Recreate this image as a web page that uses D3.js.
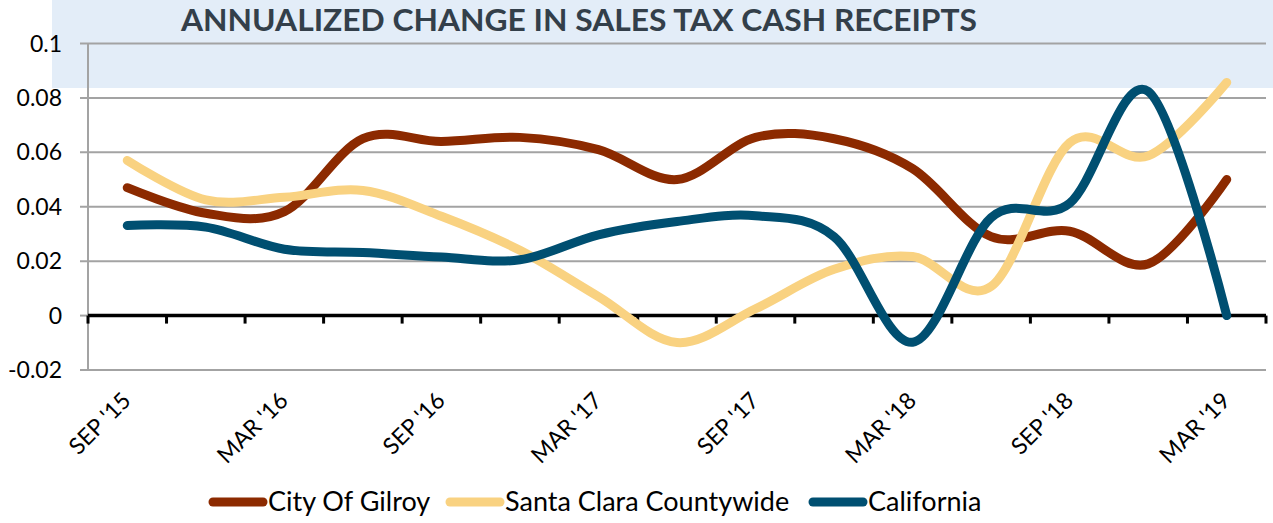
<!DOCTYPE html>
<html>
<head>
<meta charset="utf-8">
<script src="https://cdn.jsdelivr.net/npm/d3@7"></script>
<style>
  html, body { margin: 0; padding: 0; background: #ffffff; }
  svg { display: block; }
</style>
</head>
<body>
<svg id="chart" width="1273" height="523"></svg>
<script>
// ---------------- data ----------------
const categories = ["SEP '15","DEC '15","MAR '16","JUN '16","SEP '16","DEC '16","MAR '17","JUN '17","SEP '17","DEC '17","MAR '18","JUN '18","SEP '18","DEC '18","MAR '19"];
const seriesNames = ["City Of Gilroy", "Santa Clara Countywide", "California"];
const gilroy      = [0.047, 0.0376, 0.0382, 0.065, 0.064, 0.0655, 0.061, 0.050, 0.0655, 0.065, 0.054, 0.029, 0.031, 0.019, 0.050];
const santaClara  = [0.057, 0.0425, 0.0435, 0.046, 0.0365, 0.024, 0.007, -0.0099, 0.0025, 0.017, 0.0217, 0.0107, 0.0635, 0.0587, 0.0857];
const california  = [0.0331, 0.0325, 0.0244, 0.0232, 0.0215, 0.0205, 0.0297, 0.0346, 0.0367, 0.029, -0.0098, 0.036, 0.0413, 0.0824, 0.0];
const yTicks = [-0.02, 0, 0.02, 0.04, 0.06, 0.08, 0.1];
const yTickLabels = ["-0.02", "0", "0.02", "0.04", "0.06", "0.08", "0.1"];
const titleText = "ANNUALIZED CHANGE IN SALES TAX CASH RECEIPTS";

// ---------------- styles / layout ----------------
const colors = ["#8c2a00", "#f9d281", "#004f71"];
const seriesValues = [gilroy, santaClara, california];
const svg = d3.select("#chart");
const plotLeft = 88, plotRight = 1266, plotTop = 43.5, plotBottom = 370;

// title band
svg.append("rect").attr("x", 52).attr("y", 0).attr("width", 1273 - 52).attr("height", 88)
  .attr("fill", "#e3edf8");

const x = d3.scalePoint().domain(categories).range([plotLeft, plotRight]).padding(0.5);
const xb = d3.scaleBand().domain(categories).range([plotLeft, plotRight]).paddingInner(0).paddingOuter(0);
const y = d3.scaleLinear().domain([-0.02, 0.1]).range([plotBottom, plotTop]);

// gridlines (non-zero)
const grid = svg.append("g");
grid.selectAll("line").data(yTicks.filter(d => d !== 0)).join("line")
  .attr("x1", 80).attr("x2", plotRight)
  .attr("y1", d => y(d)).attr("y2", d => y(d))
  .attr("stroke", "#a3a3a3").attr("stroke-width", 2);
// small tick for zero on the y axis
svg.append("line").attr("x1", 80).attr("x2", plotLeft).attr("y1", y(0)).attr("y2", y(0))
  .attr("stroke", "#a3a3a3").attr("stroke-width", 2);

// y axis line
svg.append("line").attr("x1", plotLeft).attr("x2", plotLeft).attr("y1", y(0.1)).attr("y2", y(-0.02))
  .attr("stroke", "#a3a3a3").attr("stroke-width", 2);

// y tick labels
svg.append("g").selectAll("text").data(yTicks).join("text")
  .attr("x", 62).attr("y", d => y(d) + 8)
  .attr("text-anchor", "end")
  .attr("font-family", "Lato, 'Noto Sans', sans-serif")
  .attr("font-size", 23).attr("fill", "#000")
  .text((d, i) => yTickLabels[i]);

// zero axis (category axis)
svg.append("line").attr("x1", plotLeft).attr("x2", plotRight).attr("y1", y(0)).attr("y2", y(0))
  .attr("stroke", "#000").attr("stroke-width", 3.5);
const tickXs = categories.map(c => xb(c)).concat([plotRight]);
svg.append("g").selectAll("line").data(tickXs).join("line")
  .attr("x1", d => d).attr("x2", d => d)
  .attr("y1", y(0)).attr("y2", y(0) + 8)
  .attr("stroke", "#000").attr("stroke-width", 3);

// x labels (every other category)
svg.append("g").selectAll("text").data(categories.filter((c, i) => i % 2 === 0)).join("text")
  .attr("transform", d => `translate(${x(d) + 5},${402}) rotate(-45)`)
  .attr("text-anchor", "end")
  .attr("font-family", "Lato, 'Noto Sans', sans-serif")
  .attr("font-size", 23).attr("fill", "#000")
  .text(d => d);

// lines
const line = d3.line().x((d, i) => x(categories[i])).y(d => y(d)).curve(d3.curveCardinal.tension(0));
svg.append("g").selectAll("path").data(seriesValues).join("path")
  .attr("d", d => line(d))
  .attr("fill", "none")
  .attr("stroke", (d, i) => colors[i])
  .attr("stroke-width", 9)
  .attr("stroke-linecap", "round")
  .attr("stroke-linejoin", "round");

// title
svg.append("text")
  .attr("x", 579).attr("y", 31)
  .attr("text-anchor", "middle")
  .attr("font-family", "Lato, 'Open Sans', sans-serif")
  .attr("font-weight", 700)
  .attr("font-size", 31)
  .attr("fill", "#333f4a")
  .attr("textLength", 796)
  .attr("lengthAdjust", "spacingAndGlyphs")
  .text(titleText);

// legend
const legendX = [209, 446, 809];
const legend = svg.append("g");
seriesNames.forEach((name, i) => {
  legend.append("line")
    .attr("x1", legendX[i] + 4).attr("x2", legendX[i] + 54)
    .attr("y1", 502).attr("y2", 502)
    .attr("stroke", colors[i]).attr("stroke-width", 9).attr("stroke-linecap", "round");
  legend.append("text")
    .attr("x", legendX[i] + 59).attr("y", 511)
    .attr("font-family", "Lato, 'Noto Sans', sans-serif")
    .attr("font-size", 27).attr("fill", "#000")
    .text(name);
});
</script>
</body>
</html>
